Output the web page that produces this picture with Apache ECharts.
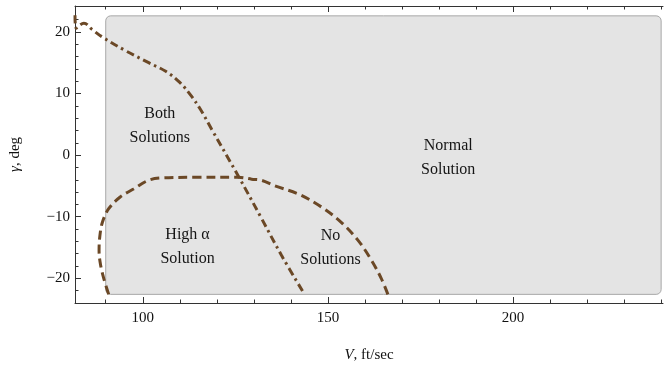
<!DOCTYPE html>
<html>
<head>
<meta charset="utf-8">
<script src="https://cdn.jsdelivr.net/npm/echarts@6/dist/echarts.min.js"></script>
<style>
  html, body { margin: 0; padding: 0; background: #fff; }
  #chart { width: 664px; height: 368px; }
</style>
</head>
<body>
<div id="chart"></div>
<script>
// Axis ranges and tick values
const xRange = [81.7, 240.5];
const yRange = [-24.0, 24.2];
const xMajorTicks = [100, 150, 200];
const xMinorTicks = [90, 110, 120, 130, 140, 160, 170, 180, 190, 210, 220, 230, 240];
const yMajorTicks = [-20, -10, 0, 10, 20];
const yMinorTicks = [-22, -18, -16, -14, -12, -8, -6, -4, -2, 2, 4, 6, 8, 12, 14, 16, 18, 22];

// Shaded operating region: [vMin, vMax, gammaMin, gammaMax]
const regionBounds = [90, 240, -22.6, 22.6];

// Boundary between "both solutions" and "normal solution" (dash-dot)
const boundaryV = [81.7, 82.0, 84.1, 86.3, 89.0, 94.9, 101.6, 106.2, 110.0, 113.1, 115.6, 118.6, 125.9, 132.1, 137.5, 143.7];
const boundaryGamma = [22.7, 20.6, 21.4, 20.4, 19.2, 17.1, 15.0, 13.6, 11.8, 9.6, 7.4, 4.2, -3.5, -10.3, -16.3, -22.6];

// Edge of the high-alpha solution region (dashed)
const highAlphaV = [90.8, 89.6, 88.6, 88.2, 88.4, 89.1, 90.8, 93.9, 97.5, 101.5, 105.1, 114.1, 125.8, 129.4, 132.1, 135.7, 142.0, 148.2, 153.6, 158.1, 161.7, 164.4, 166.2];
const highAlphaGamma = [-22.6, -20.3, -17.8, -15.5, -13.2, -10.9, -8.7, -6.8, -5.5, -4.1, -3.7, -3.6, -3.6, -3.9, -4.1, -5.0, -6.3, -8.4, -10.9, -13.8, -17.0, -20.0, -22.6];

// Region annotations
const noteText = ['Both\nSolutions', 'High \u03b1\nSolution', 'No\nSolutions', 'Normal\nSolution'];
const noteV = [104.6, 112.1, 150.7, 182.5];
const noteGamma = [4.8, -14.8, -15.1, -0.5];

const serif = "'Liberation Serif', 'DejaVu Serif', serif";
const curveColor = '#6b4826';
const axisColor = '#333';

function pairs(xs, ys) { return xs.map((x, i) => [x, ys[i]]); }

function xAxisDef(position, ticks, len, withLine, withLabels) {
  return {
    type: 'value', position: position, min: xRange[0], max: xRange[1],
    axisLine: { show: withLine, onZero: false, lineStyle: { color: axisColor, width: 1 } },
    axisTick: { show: true, inside: true, length: len, customValues: ticks, lineStyle: { color: axisColor, width: 1 } },
    axisLabel: withLabels ? { show: true, customValues: ticks, margin: 8, color: '#111', fontFamily: serif, fontSize: 15 } : { show: false },
    splitLine: { show: false }
  };
}
function yAxisDef(ticks, len, withLine, withLabels) {
  return {
    type: 'value', position: 'left', min: yRange[0], max: yRange[1],
    axisLine: { show: withLine, onZero: false, lineStyle: { color: axisColor, width: 1 } },
    axisTick: { show: true, inside: true, length: len, customValues: ticks, lineStyle: { color: axisColor, width: 1 } },
    axisLabel: withLabels ? {
      show: true, customValues: ticks, margin: 5, color: '#111', fontFamily: serif, fontSize: 15,
      formatter: v => (v < 0 ? '\u2212' + Math.abs(v) : String(v))
    } : { show: false },
    splitLine: { show: false }
  };
}

const xMain = xAxisDef('bottom', xMajorTicks, 6, true, true);
xMain.name = '{i|V}, ft/sec';
xMain.nameLocation = 'middle';
xMain.nameGap = 45;
xMain.nameTextStyle = { fontFamily: serif, fontSize: 15, color: '#111', rich: { i: { fontFamily: serif, fontSize: 15, fontStyle: 'italic', color: '#111' } } };

const yMain = yAxisDef(yMajorTicks, 6, true, true);
yMain.name = '{i|\u03b3}, deg';
yMain.nameLocation = 'middle';
yMain.nameRotate = 90;
yMain.nameGap = 52;
yMain.nameTextStyle = { fontFamily: serif, fontSize: 15, color: '#111', rich: { i: { fontFamily: serif, fontSize: 15, fontStyle: 'italic', color: '#111' } } };

const chart = echarts.init(document.getElementById('chart'), null, { renderer: 'canvas' });
chart.setOption({
  animation: false,
  backgroundColor: '#fff',
  grid: { left: 73, right: 1, top: 6, bottom: 63, containLabel: false },
  xAxis: [
    xMain,
    xAxisDef('bottom', xMinorTicks, 3.5, false, false),
    xAxisDef('top', xMajorTicks, 6, true, false),
    xAxisDef('top', xMinorTicks, 3.5, false, false)
  ],
  yAxis: [
    yMain,
    yAxisDef(yMinorTicks, 3.5, false, false)
  ],
  series: [
    {
      type: 'custom', z: 1, silent: true,
      xAxisIndex: 0, yAxisIndex: 0,
      data: [regionBounds],
      encode: { x: [0, 1], y: [2, 3] },
      renderItem: function (params, api) {
        const p0 = api.coord([api.value(0), api.value(3)]);
        const p1 = api.coord([api.value(1), api.value(2)]);
        return {
          type: 'rect',
          shape: { x: p0[0], y: p0[1], width: p1[0] - p0[0], height: p1[1] - p0[1], r: 5 },
          style: { fill: '#e4e4e4', stroke: '#a8a8a8', lineWidth: 1 }
        };
      }
    },
    {
      type: 'line', z: 3, xAxisIndex: 0, yAxisIndex: 0,
      data: pairs(boundaryV, boundaryGamma),
      showSymbol: false, smooth: 0.4,
      lineStyle: { color: curveColor, width: 3, type: [8, 4, 2.5, 4], cap: 'butt' }
    },
    {
      type: 'line', z: 3, xAxisIndex: 0, yAxisIndex: 0,
      data: pairs(highAlphaV, highAlphaGamma),
      showSymbol: false, smooth: 0.35,
      lineStyle: { color: curveColor, width: 3, type: [9, 5], cap: 'butt' }
    },
    {
      type: 'custom', z: 4, silent: true,
      xAxisIndex: 0, yAxisIndex: 0,
      data: pairs(noteV, noteGamma),
      encode: { x: 0, y: 1 },
      renderItem: function (params, api) {
        const p = api.coord([api.value(0), api.value(1)]);
        return {
          type: 'text',
          x: p[0], y: p[1],
          style: {
            text: noteText[params.dataIndex],
            fill: '#151515',
            font: '16px ' + serif,
            align: 'center',
            verticalAlign: 'middle',
            lineHeight: 24
          }
        };
      }
    }
  ]
});
</script>
</body>
</html>
